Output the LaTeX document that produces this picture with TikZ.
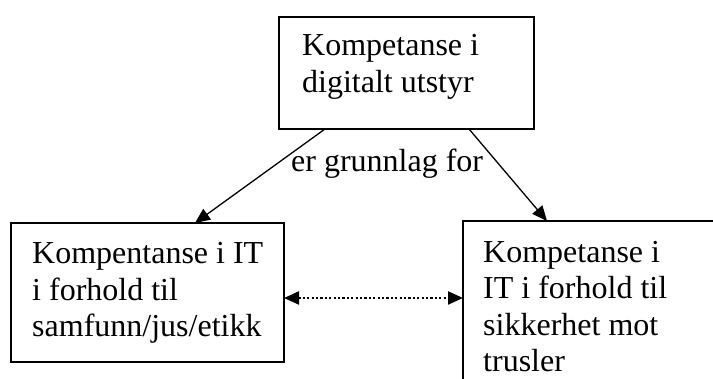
\documentclass[tikz,border=0pt]{standalone}
\usepackage{fontspec}
\setmainfont{Liberation Serif}
\usetikzlibrary{arrows.meta}
\begin{document}
\begin{tikzpicture}[x=1pt,y=-1pt,
  box/.style={draw=black, line width=1.5pt},
  txt/.style={anchor=base west, inner sep=0pt, align=left, font=\fontsize{32}{36.5}\selectfont},
  conn/.style={line width=1.3pt, -{Triangle[length=15pt,width=13pt]}},
  dotconn/.style={line width=2.2pt, dash pattern=on 2.2pt off 2.2pt, {Triangle[length=15pt,width=13pt]}-{Triangle[length=15pt,width=13pt]}}]
\useasboundingbox (0,0) rectangle (713,379);
\clip (0,0) rectangle (713,379);
% boxes
\draw[box] (279,17) rectangle (534,129);
\coordinate (topL) at (325,129);
\coordinate (topR) at (469,129);
\draw[box] (11,223) rectangle (284,362);
\coordinate (leftT) at (195,223);
\coordinate (leftR) at (284,298);
\draw[box] (463,221) rectangle (730,400);
\coordinate (rightT) at (547,221);
\coordinate (rightL) at (463,298);
% texts
\node[txt] (ttop) at (302,92.5) {Kompetanse i\\digitalt utstyr};
\node[txt] (tleft) at (32,337) {Kompentanse i IT\\i forhold til\\samfunn/jus/etikk};
\node[txt] (tright) at (483,372) {Kompetanse i\\IT i forhold til\\sikkerhet mot\\trusler};
\node[txt] (lab) at (291,172) {er grunnlag for};
% connectors
\draw[conn] (topL) -- (leftT);
\draw[conn] (topR) -- (rightT);
\draw[dotconn] (leftR) -- (rightL);
\end{tikzpicture}
\end{document}
